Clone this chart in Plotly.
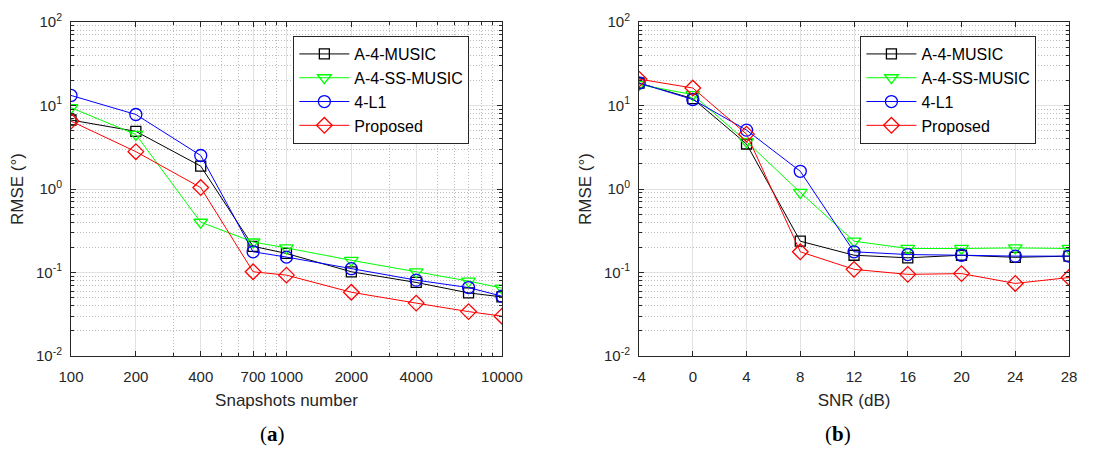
import plotly.graph_objects as go

# ---------------- data ----------------
snapshots = [100, 200, 400, 700, 1000, 2000, 4000, 7000, 10000]
snap_ticks = [100, 200, 400, 700, 1000, 2000, 4000, 10000]
a_music_a = [6.7, 4.9, 1.88, 0.206, 0.169, 0.102, 0.076, 0.057, 0.051]
a_ss_music_a = [9.4, 4.5, 0.40, 0.232, 0.197, 0.140, 0.102, 0.079, 0.065]
l1_a = [13.2, 7.8, 2.52, 0.177, 0.153, 0.111, 0.081, 0.066, 0.052]
proposed_a = [6.5, 2.8, 1.04, 0.102, 0.093, 0.058, 0.043, 0.034, 0.030]

snr = [-4, 0, 4, 8, 12, 16, 20, 24, 28]
a_music_b = [18.6, 12.1, 3.46, 0.237, 0.161, 0.150, 0.161, 0.152, 0.157]
a_ss_music_b = [17.8, 13.5, 3.69, 0.91, 0.237, 0.194, 0.194, 0.197, 0.194]
l1_b = [18.6, 11.8, 5.07, 1.63, 0.177, 0.164, 0.161, 0.157, 0.157]
proposed_b = [20.7, 16.2, 4.54, 0.177, 0.109, 0.095, 0.097, 0.074, 0.087]

names = ["A-4-MUSIC", "A-4-SS-MUSIC", "4-L1", "Proposed"]
colors = ["#000000", "#00ff00", "#0000ff", "#ff0000"]
symbols = ["square-open", "triangle-down-open", "circle-open", "diamond-open"]
msizes = [10, 12, 12, 12]

y_tickvals = [0.01, 0.1, 1, 10, 100]
y_ticktext = ["10<sup>-2</sup>", "10<sup>-1</sup>", "10<sup>0</sup>", "10<sup>1</sup>", "10<sup>2</sup>"]
y_minor = [m * 10 ** e for e in range(-2, 2) for m in range(2, 10)]
x_minor_a = [m * 10 ** e for e in range(2, 4) for m in range(2, 10)]

fig = go.Figure()

series_a = [a_music_a, a_ss_music_a, l1_a, proposed_a]
series_b = [a_music_b, a_ss_music_b, l1_b, proposed_b]

for i in range(4):
    fig.add_trace(go.Scatter(
        x=snapshots, y=series_a[i], name=names[i], mode="lines+markers",
        line=dict(color=colors[i], width=1),
        marker=dict(symbol=symbols[i], size=msizes[i], color=colors[i],
                    line=dict(width=1.3, color=colors[i])),
        xaxis="x", yaxis="y", legend="legend", legendgroup="a%d" % i))
for i in range(4):
    fig.add_trace(go.Scatter(
        x=snr, y=series_b[i], name=names[i], mode="lines+markers",
        line=dict(color=colors[i], width=1),
        marker=dict(symbol=symbols[i], size=msizes[i], color=colors[i],
                    line=dict(width=1.3, color=colors[i])),
        xaxis="x2", yaxis="y2", legend="legend2", legendgroup="b%d" % i))

axis_font = dict(family="Liberation Sans, Arial, sans-serif", size=15, color="#262626")
title_font = dict(family="Liberation Sans, Arial, sans-serif", size=17, color="#262626")

common = dict(showline=True, linecolor="#262626", linewidth=1, mirror="allticks",
              ticks="inside", ticklen=5, tickcolor="#262626",
              showgrid=True, gridcolor="#e2e2e2", gridwidth=1,
              zeroline=False, tickfont=axis_font)

minor_style = dict(ticks="inside", ticklen=3, tickcolor="#262626", showgrid=True,
                   gridcolor="#bcbcbc", griddash="1px,2px", gridwidth=1)

yaxis_common = dict(common, type="log", range=[-2, 2],
                    tickmode="array", tickvals=y_tickvals, ticktext=y_ticktext,
                    minor=dict(minor_style, tickmode="array", tickvals=y_minor),
                    ticklabelstandoff=5)

legend_common = dict(bgcolor="white", bordercolor="#262626", borderwidth=1,
                     font=dict(family="Liberation Sans, Arial, sans-serif", size=16, color="#000000"),
                     itemwidth=50, xanchor="left", yanchor="top", traceorder="grouped",
                     tracegroupgap=0)

fig.update_layout(
    width=1101, height=449,
    margin=dict(l=71, r=11, t=18, b=93),
    plot_bgcolor="white", paper_bgcolor="white",
    xaxis=dict(common, type="log", domain=[0, 0.4318], anchor="y",
               range=[2, 4], tickmode="array", tickvals=snap_ticks,
               ticktext=[str(v) for v in snap_ticks],
               minor=dict(minor_style, tickmode="array", tickvals=x_minor_a),
               ticklabelstandoff=7,
               title=dict(text="Snapshots number", font=title_font, standoff=10)),
    yaxis=dict(yaxis_common, anchor="x", domain=[0, 1],
               title=dict(text="RMSE (°)", font=title_font, standoff=8)),
    xaxis2=dict(common, domain=[0.5692, 1], anchor="y2", range=[-4, 28],
                tickmode="array", tickvals=snr, ticktext=[str(v) for v in snr],
                ticklabelstandoff=7,
                title=dict(text="SNR (dB)", font=title_font, standoff=10)),
    yaxis2=dict(yaxis_common, anchor="x2", domain=[0, 1],
                title=dict(text="RMSE (°)", font=title_font, standoff=8)),
    legend=dict(legend_common, x=0.2228, y=0.958),
    legend2=dict(legend_common, x=0.791, y=0.958),
    annotations=[
        dict(text="(<b>a</b>)", x=0.2022, y=-0.235, xref="paper", yref="paper",
             showarrow=False, xanchor="center", yanchor="middle",
             font=dict(family="Liberation Serif, Times New Roman, serif", size=21, color="#000000")),
        dict(text="(<b>b</b>)", x=0.769, y=-0.235, xref="paper", yref="paper",
             showarrow=False, xanchor="center", yanchor="middle",
             font=dict(family="Liberation Serif, Times New Roman, serif", size=21, color="#000000")),
    ],
)

fig.write_html("out.html")
